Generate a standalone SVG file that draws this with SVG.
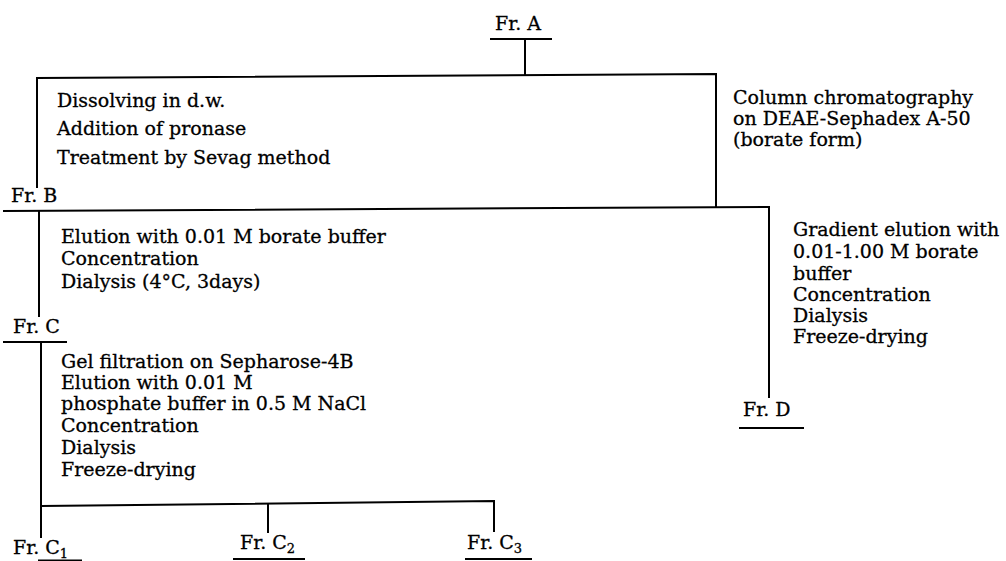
<svg xmlns="http://www.w3.org/2000/svg" width="1006" height="561" viewBox="0 0 1006 561">
<style>
text{font-family:"DejaVu Serif","Liberation Serif",serif;font-size:19px;fill:#000;stroke:#000;stroke-width:0.3}
.ln{stroke:#000;stroke-width:2;fill:none}
.sub{font-size:13px}
</style>
<rect width="1006" height="561" fill="#fff"/>
<g id="connectors">
<path class="ln" d="M490 39H552"/>
<path class="ln" d="M525 39V76"/>
<path class="ln" d="M37 188V78L716 74V207"/>
<path class="ln" d="M3 211L769 207V398"/>
<path class="ln" d="M39 211V317"/>
<path class="ln" d="M3 342H67"/>
<path class="ln" d="M41 342V538"/>
<path class="ln" d="M41 506L494 501V532"/>
<path class="ln" d="M268 503V533"/>
<path class="ln" d="M739 428H804"/>
<path class="ln" d="M233 559H305"/>
<path class="ln" d="M465 559H532"/>
<path class="ln" d="M38 560.5H82"/>
</g>
<g id="frA"><text x="495" y="30">Fr. A</text></g>
<g id="step1">
<text x="57" y="107">Dissolving in d.w.</text>
<text x="57" y="135">Addition of pronase</text>
<text x="57" y="164">Treatment by Sevag method</text>
</g>
<g id="step2">
<text x="733" y="104">Column chromatography</text>
<text x="733" y="125">on DEAE-Sephadex A-50</text>
<text x="733" y="146">(borate form)</text>
</g>
<g id="frB"><text x="11" y="202">Fr. B</text></g>
<g id="step3">
<text x="61" y="243">Elution with 0.01 M  borate buffer</text>
<text x="61" y="265">Concentration</text>
<text x="61" y="288">Dialysis (4°C, 3days)</text>
</g>
<g id="step4">
<text x="793" y="236">Gradient elution with</text>
<text x="793" y="258">0.01-1.00 M borate</text>
<text x="793" y="280">buffer</text>
<text x="793" y="301">Concentration</text>
<text x="793" y="322">Dialysis</text>
<text x="793" y="343">Freeze-drying</text>
</g>
<g id="frC"><text x="13" y="333">Fr. C</text></g>
<g id="step5">
<text x="61" y="368">Gel filtration  on Sepharose-4B</text>
<text x="61" y="389">Elution with 0.01 M</text>
<text x="61" y="410">phosphate buffer in 0.5 M NaCl</text>
<text x="61" y="432">Concentration</text>
<text x="61" y="454">Dialysis</text>
<text x="61" y="476">Freeze-drying</text>
</g>
<g id="frD"><text x="743" y="416">Fr. D</text></g>
<g id="frC1"><text x="13" y="554">Fr. C<tspan class="sub" dy="4">1</tspan></text></g>
<g id="frC2"><text x="240" y="549">Fr. C<tspan class="sub" dy="4">2</tspan></text></g>
<g id="frC3"><text x="467" y="549">Fr. C<tspan class="sub" dy="4">3</tspan></text></g>
</svg>
